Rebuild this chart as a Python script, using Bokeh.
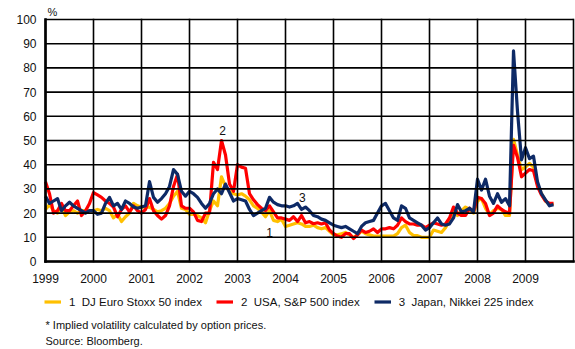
from bokeh.plotting import figure
from bokeh.models import BoxAnnotation, FixedTicker, Label, Legend, LegendItem, Range1d
from bokeh.embed import file_html
from bokeh.resources import INLINE

# ---- data (monthly, Jan 1999 .. Aug 2009), implied volatility in % ----
start_year = 1999
euro_stoxx = [
    21.5, 23.5, 21, 20, 22.5, 19, 20.5, 21, 20, 21, 21, 21,          # 1999
    21, 21.5, 21, 22, 21, 18, 19.5, 16.5, 18.5, 20, 24, 23,          # 2000
    22.5, 22.5, 22.5, 21.5, 20.5, 21, 22, 24, 27, 29, 22, 21.5,      # 2001
    19.5, 19.5, 19, 18, 16, 21, 25, 23, 35, 31, 29, 28,              # 2002
    27.5, 28, 27, 25.5, 23, 22, 20.5, 18.5, 21, 17, 16.5, 17.5,      # 2003
    14.5, 15, 15.5, 16, 15.5, 14.5, 14.5, 15, 14, 13.5, 14, 12.5,    # 2004
    11, 11, 11.5, 12, 11, 10, 11, 12.5, 11.5, 11, 10.5, 10.5,        # 2005
    10.5, 10.5, 10.5, 10.5, 11.5, 14, 15, 12, 10.7, 10.7, 10, 10,    # 2006
    10, 13, 12.5, 12, 14, 17, 21.5, 19, 21, 22.5, 21.5, 20,          # 2007
    25, 26, 22, 19.5, 21, 22, 21.5, 19, 19, 50.5, 44, 38,            # 2008
    39, 40.5, 39, 32, 28, 25, 23.5, 24,                              # 2009
]
sp500 = [
    33, 28, 20, 21, 24, 21, 21, 23, 25, 19, 21, 24,
    28.5, 27.5, 26.5, 25, 24, 22.5, 18.5, 21.5, 23, 20.5, 23, 21,
    20, 21.5, 26, 21, 19, 17.5, 19, 23, 31, 36, 23, 22,
    22, 20.5, 17, 16.5, 20, 20, 41, 38, 50, 44, 32, 29,
    40, 39, 38.5, 28, 25.5, 23.5, 22, 21, 23, 20.5, 18, 18,
    17.5, 17, 18.5, 16.5, 19, 16, 16.5, 15.6, 16, 15.5, 16, 13,
    11.5, 10.5, 10, 11.5, 11.5, 9.5, 11, 13, 12, 12.5, 13.5, 12,
    13.5, 13.5, 14, 13.5, 15, 18, 16.5, 15.5, 15.5, 15, 15, 14,
    15, 16, 15.5, 15, 15.5, 18, 22.5, 20, 19, 19, 22, 20.5,
    26.5, 26, 24, 19, 20, 23, 21.5, 20.5, 20, 48, 43, 35,
    36.5, 38, 37.5, 31, 27.5, 25, 24, 24,
]
nikkei = [
    27, 24, 25, 26, 21, 23, 24.5, 23, 22, 21, 20, 21,
    21, 19.5, 20, 24, 26.5, 23, 24, 21.5, 25, 24, 22.5, 22,
    22.5, 23, 33, 26.5, 24.5, 26, 28, 31, 38, 36, 29, 27,
    29, 28, 26.5, 24, 22, 24, 28, 30, 28, 32, 28.5, 25,
    26, 25.5, 25, 21.5, 19, 20, 21, 22, 26.5, 24.5, 23.5, 23,
    23, 22.5, 23, 24, 21.5, 22.5, 21, 19, 18.5, 17.5, 17, 16,
    15, 14.5, 14, 14.5, 13.5, 12.5, 11.5, 14.5, 16, 16.5, 17, 20,
    23, 24, 21, 18, 17, 23, 22, 18, 17, 16, 15, 13,
    14, 16, 18, 15.5, 15, 15.5, 18, 23.5, 20.5, 21, 22, 20.5,
    34, 29.5, 34, 27, 24, 28, 24.5, 26, 23, 87, 62, 42,
    47, 42.5, 43.5, 33, 28, 25.5, 23, 23.5,
]
year_ticks = list(range(1999, 2010))
grid_years = list(range(1999, 2011))
y_ticks = list(range(0, 101, 10))
series_labels = ["1  DJ Euro Stoxx 50 index", "2  USA, S&P 500 index", "3  Japan, Nikkei 225 index"]
series_colors = ["#FFC000", "#FF0000", "#0E2A66"]
note_lines = ["* Implied volatility calculated by option prices.", "Source: Bloomberg."]

t = [start_year + i / 12 for i in range(len(euro_stoxx))]

FONT = "Liberation Sans"
TXT = "#111111"
GRID = "#000000"
PX_YEAR = 48.0
PX_UNIT = 2.42
X0 = 1999 - 45 / PX_YEAR
Y0 = -(349 - 261) / PX_UNIT

p = figure(width=575, height=349, output_backend="svg", toolbar_location=None,
           x_range=Range1d(X0, X0 + 575 / PX_YEAR),
           y_range=Range1d(Y0, Y0 + 349 / PX_UNIT),
           min_border=0)
p.title.text = ""
p.title.visible = False
p.outline_line_color = None
p.xgrid.visible = False
p.ygrid.visible = False

# axes (tick labels only) drawn inside the canvas at fixed locations
p.xaxis.fixed_location = 0
p.yaxis.fixed_location = 1999
p.xaxis.ticker = FixedTicker(ticks=year_ticks)
p.yaxis.ticker = FixedTicker(ticks=y_ticks)
p.axis.axis_line_color = None
p.axis.major_tick_line_color = None
p.axis.minor_tick_line_color = None
p.axis.major_tick_out = 0
p.axis.major_tick_in = 0
p.axis.major_label_text_font = FONT
p.axis.major_label_text_font_size = "12px"
p.axis.major_label_text_color = TXT
p.xaxis.major_label_standoff = 12
p.yaxis.major_label_standoff = 9

renderers = []
for vals, col in zip([euro_stoxx, sp500, nikkei], series_colors):
    r = p.line(t, vals, line_color=col, line_width=3.2, line_join="round")
    renderers.append(r)


def grid_box(half_px_x, half_px_y, left, right, bottom, top):
    """Thin filled box in data coordinates, padded by a few screen pixels."""
    return BoxAnnotation(left=left - half_px_x / PX_YEAR, right=right + half_px_x / PX_YEAR,
                         bottom=bottom - half_px_y / PX_UNIT, top=top + half_px_y / PX_UNIT,
                         fill_color=GRID, fill_alpha=1.0, line_color=None)


# chart box grid at every tick
for yr in grid_years:
    p.add_layout(grid_box(0.8, 0.8, yr, yr, y_ticks[0], y_ticks[-1]))
for yv in y_ticks:
    p.add_layout(grid_box(0.0, 0.8, grid_years[0], grid_years[-1], yv, yv))
# heavier axis lines
p.add_layout(grid_box(1.3, 1.3, grid_years[0], grid_years[0], y_ticks[0], y_ticks[-1]))
p.add_layout(grid_box(1.3, 1.3, grid_years[0], grid_years[-1], y_ticks[0], y_ticks[0]))

legend = Legend(
    items=[LegendItem(label=lab, renderers=[r]) for lab, r in zip(series_labels, renderers)],
    location=(44, 41), orientation="horizontal",
    border_line_color=None, background_fill_alpha=0,
    padding=0, margin=0, spacing=14,
    glyph_width=17, glyph_height=13, label_height=13, label_standoff=8,
    label_text_font=FONT, label_text_font_size="11.5px", label_text_color=TXT,
)
p.add_layout(legend)

# unit
p.add_layout(Label(x=1999.04, y=102.9, text="%", text_font=FONT, text_font_size="11px",
                   text_align="left", text_baseline="middle", text_color=TXT))

# series markers
for txt, x, y in [("2", 2002.69, 54.1), ("3", 2004.35, 26.4), ("1", 2003.67, 12.0)]:
    p.add_layout(Label(x=x, y=y, text=txt, text_font=FONT, text_font_size="12px",
                       text_align="center", text_baseline="middle", text_color=TXT))

# footnotes
for txt, y in zip(note_lines, [-26.4, -33.0]):
    p.add_layout(Label(x=1999.0, y=y, text=txt, text_font=FONT, text_font_size="11px",
                       text_align="left", text_baseline="middle", text_color=TXT))

open("out.html", "w").write(file_html(p, INLINE))
